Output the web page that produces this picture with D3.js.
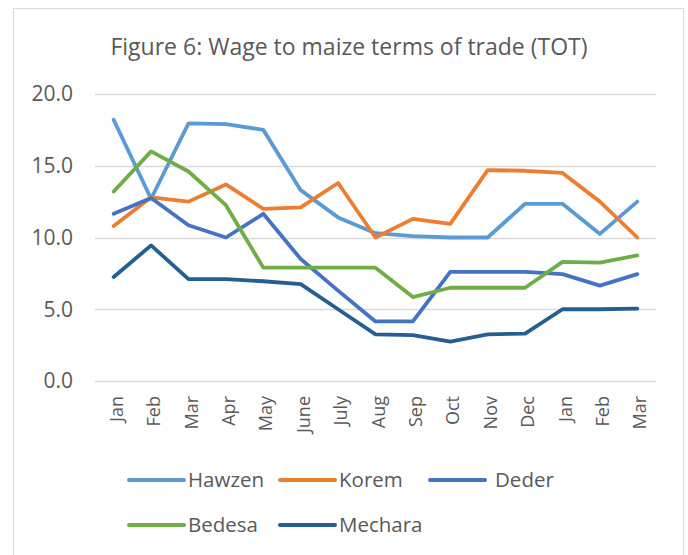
<!DOCTYPE html>
<html>
<head>
<meta charset="utf-8">
<script src="https://cdn.jsdelivr.net/npm/d3@7"></script>
<style>
  body { margin: 0; background: #fff; }
  svg { display: block; font-family: "Open Sans", sans-serif; }
</style>
</head>
<body>
<div id="chart"></div>
<script>
const months = ["Jan", "Feb", "Mar", "Apr", "May", "June", "July", "Aug", "Sep", "Oct", "Nov", "Dec", "Jan", "Feb", "Mar"];
const yTicks = [0, 5, 10, 15, 20];

const hawzen = [18.2, 12.7, 17.95, 17.9, 17.5, 13.3, 11.4, 10.3, 10.1, 10.0, 10.0, 12.35, 12.35, 10.25, 12.5];
const korem = [10.8, 12.8, 12.5, 13.7, 12.0, 12.1, 13.8, 10.0, 11.3, 10.95, 14.7, 14.65, 14.5, 12.5, 10.0];
const deder = [11.65, 12.75, 10.85, 10.0, 11.65, 8.5, 6.3, 4.15, 4.15, 7.6, 7.6, 7.6, 7.45, 6.65, 7.45];
const bedesa = [13.2, 16.0, 14.6, 12.25, 7.9, 7.9, 7.9, 7.9, 5.85, 6.5, 6.5, 6.5, 8.3, 8.25, 8.75];
const mechara = [7.25, 9.45, 7.1, 7.1, 6.95, 6.75, 5.0, 3.25, 3.2, 2.75, 3.25, 3.3, 5.0, 5.0, 5.05];

const seriesNames = ["Hawzen", "Korem", "Deder", "Bedesa", "Mechara"];
const seriesColors = ["#5B9BD5", "#ED7D31", "#4472C4", "#70AD47", "#255E91"];
const seriesValues = [hawzen, korem, deder, bedesa, mechara];

const width = 688, height = 555;
const textColor = "#595959";

const svg = d3.select("#chart").append("svg")
  .attr("width", width)
  .attr("height", height);

// chart frame
svg.append("rect")
  .attr("x", 13.5).attr("y", 8.5)
  .attr("width", 670).attr("height", 560)
  .attr("fill", "#fff")
  .attr("stroke", "#d9d9d9");

svg.append("text")
  .attr("x", 349).attr("y", 55)
  .attr("text-anchor", "middle")
  .attr("font-size", 23)
  .attr("fill", textColor)
  .text("Figure 6: Wage to maize terms of trade (TOT)");

const x = d3.scaleBand()
  .domain(d3.range(months.length))
  .range([95, 656]);

const y = d3.scaleLinear()
  .domain([0, 20])
  .range([381, 94]);

// gridlines
svg.append("g")
  .selectAll("line")
  .data(yTicks)
  .join("line")
  .attr("x1", 95).attr("x2", 656)
  .attr("y1", d => Math.round(y(d)) + 0.5)
  .attr("y2", d => Math.round(y(d)) + 0.5)
  .attr("stroke", "#d9d9d9")
  .attr("stroke-width", 1.5);

// y labels
svg.append("g")
  .selectAll("text")
  .data(yTicks)
  .join("text")
  .attr("x", 73)
  .attr("y", d => y(d))
  .attr("dy", "0.35em")
  .attr("text-anchor", "end")
  .attr("font-size", 21)
  .attr("fill", textColor)
  .text(d => d.toFixed(1));

// x labels, rotated
svg.append("g")
  .selectAll("text")
  .data(months)
  .join("text")
  .attr("transform", (d, i) => `translate(${x(i) + x.bandwidth() / 2 + 9},396) rotate(-90)`)
  .attr("text-anchor", "end")
  .attr("font-size", 18)
  .attr("fill", textColor)
  .text(d => d);

const line = d3.line()
  .x((d, i) => x(i) + x.bandwidth() / 2)
  .y(d => y(d));

svg.append("g")
  .selectAll("path")
  .data(seriesValues)
  .join("path")
  .attr("d", d => line(d))
  .attr("fill", "none")
  .attr("stroke", (d, i) => seriesColors[i])
  .attr("stroke-width", 3.8)
  .attr("stroke-linejoin", "round")
  .attr("stroke-linecap", "round");

// legend
const legendPos = [[129, 480], [280, 480], [430, 480], [129, 525], [280, 525]];
const legendTextX = [188, 339, 495, 188, 339];
const legend = svg.append("g")
  .selectAll("g")
  .data(seriesNames)
  .join("g");

legend.append("line")
  .attr("x1", (d, i) => legendPos[i][0])
  .attr("x2", (d, i) => legendPos[i][0] + 55)
  .attr("y1", (d, i) => legendPos[i][1])
  .attr("y2", (d, i) => legendPos[i][1])
  .attr("stroke", (d, i) => seriesColors[i])
  .attr("stroke-width", 4)
  .attr("stroke-linecap", "round");

legend.append("text")
  .attr("x", (d, i) => legendTextX[i])
  .attr("y", (d, i) => legendPos[i][1])
  .attr("dy", "0.35em")
  .attr("font-size", 20.5)
  .attr("fill", textColor)
  .text(d => d);
</script>
</body>
</html>
